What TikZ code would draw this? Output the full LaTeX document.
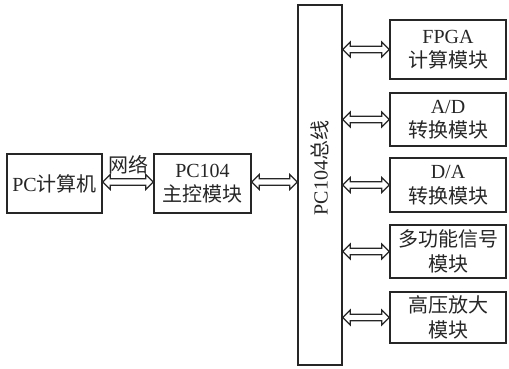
\documentclass[tikz,border=0pt]{standalone}
\usepackage{fontspec}
\setmainfont{Liberation Serif}
\newfontfamily\cjk{Noto Sans CJK SC}
\usetikzlibrary{calc}
\newcommand{\dblarrow}[2]{%
  \draw[arr] let \p1=(#1), \p2=(#2) in
    (\x1,\y1) -- ++(7.5pt,7.5pt) -- ++(0,-4.2pt) -- (\x2-7.5pt,\y1+3.3pt) -- ++(0,4.2pt)
    -- (\x2,\y1) -- ++(-7.5pt,-7.5pt) -- ++(0,4.2pt) -- (\x1+7.5pt,\y1-3.3pt) -- ++(0,-4.2pt) -- cycle;}
\begin{document}
\begin{tikzpicture}[x=1pt,y=1pt,
  box/.style={draw=black!85, line width=1.4pt, rectangle, inner sep=0pt, align=center,
    text=black!85, font=\fontsize{20}{24.5}\selectfont},
  arr/.style={draw=black!85, line width=1.2pt, fill=white, line join=miter}]
\useasboundingbox (0,0) rectangle (509,-368);
\node[box, minimum width=95pt, minimum height=59pt] (pc) at (54.5,-183.5) {PC{\cjk 计算机}};
\node[box, minimum width=97pt, minimum height=59pt] (main) at (202.5,-183.5) {PC104\\{\cjk 主控模块}};
\node[box, minimum width=44pt, minimum height=360pt] (bus) at (320,-185) {};
\node[text=black!85, font=\fontsize{20}{24}\selectfont, rotate=90] (buslabel) at (320,-168) {PC104{\cjk 总线}};
\node[box, minimum width=116pt, minimum height=59pt] (m1) at (448,-49.5) {FPGA\\{\cjk 计算模块}};
\node[box, minimum width=116pt, minimum height=53pt] (m2) at (448,-119.5) {A/D\\{\cjk 转换模块}};
\node[box, minimum width=116pt, minimum height=54pt] (m3) at (448,-185) {D/A\\{\cjk 转换模块}};
\node[box, minimum width=116pt, minimum height=53pt] (m4) at (448,-251.5) {{\cjk 多功能信号}\\{\cjk 模块}};
\node[box, minimum width=116pt, minimum height=51pt] (m5) at (448,-317.5) {{\cjk 高压放大}\\{\cjk 模块}};
\node[text=black!85, font=\fontsize{20}{24}\selectfont] (net) at (128,-165) {\cjk 网络};
\coordinate (a1) at ($(pc.east)+(0,1.5pt)$);
\coordinate (a2) at ($(main.west)+(0,1.5pt)$);
\dblarrow{a1}{a2}
\coordinate (b1) at ($(main.east)+(0,1.5pt)$);
\coordinate (b2) at ($(bus.west)+(0,0pt)$);
\dblarrow{b1}{main.east -| bus.west}
\dblarrow{bus.east |- m1.west}{m1.west}
\dblarrow{bus.east |- m2.west}{m2.west}
\dblarrow{bus.east |- m3.west}{m3.west}
\dblarrow{bus.east |- m4.west}{m4.west}
\dblarrow{bus.east |- m5.west}{m5.west}
\end{tikzpicture}
\end{document}
